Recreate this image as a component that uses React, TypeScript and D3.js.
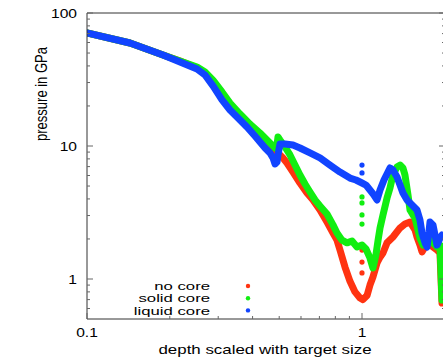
import React from "react";
import * as d3 from "d3";

// ---- data ----
const noCoreDepth = [0.1, 0.1433, 0.189, 0.2179, 0.2512, 0.2686, 0.2872, 0.3097, 0.3311, 0.3601, 0.3914, 0.4257, 0.463, 0.4909, 0.5161, 0.5337, 0.561, 0.595, 0.631, 0.6635, 0.7036, 0.746, 0.7845, 0.8111, 0.8318, 0.8673, 0.9044, 0.9431, 0.9834, 1.008, 1.043, 1.069, 1.096, 1.134, 1.163, 1.192, 1.233, 1.296, 1.375, 1.433, 1.495, 1.559, 1.585, 1.625, 1.653, 1.695, 1.724, 1.767, 1.812, 1.874, 1.921, 1.954];
const noCorePressure = [70.7, 59.5, 48.3, 43.6, 38.6, 35.4, 30.3, 24.6, 20.0, 16.52, 13.9, 11.68, 10.0, 9.01, 8.13, 7.45, 6.37, 5.27, 4.43, 3.93, 3.3, 2.68, 2.22, 1.96, 1.65, 1.23, 0.96, 0.8, 0.72, 0.7, 0.75, 0.9, 1.035, 1.32, 1.46, 1.57, 1.87, 2.07, 2.42, 2.59, 2.68, 2.34, 2.07, 1.8, 1.6, 1.74, 1.96, 1.96, 1.74, 1.65, 1.57, 0.66];

const solidCoreDepth = [0.1, 0.1433, 0.189, 0.2179, 0.2512, 0.2686, 0.2872, 0.3097, 0.3311, 0.3601, 0.3914, 0.4257, 0.455, 0.4827, 0.4909, 0.4949, 0.5032, 0.5248, 0.5473, 0.5706, 0.595, 0.6206, 0.6471, 0.6748, 0.7036, 0.746, 0.7845, 0.8111, 0.8459, 0.882, 0.9197, 0.959, 1.0, 1.034, 1.069, 1.096, 1.124, 1.144, 1.163, 1.192, 1.233, 1.264, 1.296, 1.341, 1.375, 1.409, 1.433, 1.47, 1.495, 1.533, 1.559, 1.598, 1.625, 1.667, 1.724, 1.767, 1.812, 1.874, 1.921, 1.954];
const solidCorePressure = [70.7, 59.5, 48.3, 43.6, 39.3, 36.0, 31.3, 25.5, 21.0, 17.4, 14.6, 12.52, 10.9, 9.66, 10.17, 11.68, 11.1, 9.83, 8.56, 7.19, 6.05, 5.18, 4.51, 3.93, 3.54, 3.08, 2.55, 2.22, 1.96, 1.87, 1.93, 1.74, 1.8, 1.68, 1.44, 1.21, 1.52, 1.96, 2.42, 3.03, 4.06, 4.83, 6.05, 6.95, 7.19, 6.83, 6.05, 4.28, 3.3, 3.03, 2.88, 2.34, 2.03, 1.8, 1.96, 2.07, 1.87, 1.74, 1.8, 0.695];

const liquidCoreDepth = [0.1, 0.1433, 0.189, 0.2179, 0.2512, 0.2686, 0.2872, 0.3097, 0.3311, 0.3601, 0.3817, 0.408, 0.4257, 0.4441, 0.463, 0.4747, 0.4827, 0.4909, 0.4949, 0.5032, 0.5248, 0.561, 0.595, 0.6471, 0.7036, 0.765, 0.8318, 0.9044, 0.9506, 1.0, 1.034, 1.069, 1.105, 1.134, 1.163, 1.202, 1.243, 1.264, 1.296, 1.341, 1.375, 1.409, 1.458, 1.495, 1.546, 1.585, 1.625, 1.653, 1.695, 1.724, 1.752, 1.767, 1.812, 1.843, 1.874, 1.921, 1.954];
const liquidCorePressure = [70.7, 59.5, 48.3, 42.8, 37.9, 34.2, 28.3, 22.2, 18.65, 15.7, 13.9, 11.89, 10.72, 9.66, 8.86, 8.13, 7.32, 7.58, 8.56, 10.35, 10.35, 10.17, 9.66, 8.86, 8.13, 7.19, 6.37, 5.74, 5.55, 5.27, 5.09, 4.67, 4.28, 3.93, 4.67, 5.55, 6.37, 6.83, 6.6, 5.85, 5.09, 4.43, 3.93, 3.73, 3.48, 3.3, 2.78, 2.22, 1.87, 1.74, 2.26, 2.68, 2.55, 2.14, 1.8, 2.03, 2.14];

// isolated points (the dotted columns near depth 1)
const noCoreExtraDepth = [1.0, 1.0, 1.0];
const noCoreExtraPressure = [1.65, 1.34, 1.11];
const solidCoreExtraDepth = [1.0, 1.0, 1.0, 1.0];
const solidCoreExtraPressure = [4.14, 3.73, 3.03, 2.59];
const liquidCoreExtraDepth = [1.0, 1.0];
const liquidCoreExtraPressure = [7.19, 6.27];

const seriesNames = ["no core", "solid core", "liquid core"];
const seriesColors = ["#ff3311", "#11ee11", "#1144ff"];

const xMajorTicks = [0.1, 1];
const xTickLabels = ["0.1", "1"];
const xMinorTicks = [0.2, 0.3, 0.4, 0.5, 0.6, 0.7, 0.8, 0.9];
const yMajorTicks = [1, 10, 100];
const yTickLabels = ["1", "10", "100"];
const yMinorTicks = [0.6, 0.7, 0.8, 0.9, 2, 3, 4, 5, 6, 7, 8, 9, 20, 30, 40, 50, 60, 70, 80, 90];

const W = 443;
const H = 358;
const L = 87, R = 445, T = 13, B = 319;
const FONT = "'Liberation Sans', Arial, Helvetica, sans-serif";
const SX = 1.3;

export default function App() {
  const x = d3.scaleLog().domain([0.1, 1]).range([L, 362]);
  const y = d3.scaleLog().domain([1, 100]).range([279, T]);

  const series = [
    { depth: noCoreDepth, p: noCorePressure, ed: noCoreExtraDepth, ep: noCoreExtraPressure },
    { depth: solidCoreDepth, p: solidCorePressure, ed: solidCoreExtraDepth, ep: solidCoreExtraPressure },
    { depth: liquidCoreDepth, p: liquidCorePressure, ed: liquidCoreExtraDepth, ep: liquidCoreExtraPressure },
  ];

  const line = d3
    .line<[number, number]>()
    .x((d) => x(d[0]))
    .y((d) => y(d[1]));

  const axisColor = "#333";

  return (
    <svg width={W} height={H} style={{ position: "absolute", left: 0, top: 0, background: "#fff" }}>
      <defs>
        <clipPath id="plotclip">
          <rect x={L} y={T} width={R - L} height={B - T} />
        </clipPath>
      </defs>

      <g clipPath="url(#plotclip)">
        {series.map((s, i) => (
          <g key={i}>
            <path
              d={line(s.depth.map((d, j) => [d, s.p[j]] as [number, number])) || ""}
              fill="none"
              stroke={seriesColors[i]}
              strokeWidth={7}
              strokeLinejoin="round"
              strokeLinecap="round"
            />
            {s.ed.map((d, j) => (
              <circle key={j} cx={x(d)} cy={y(s.ep[j])} r={2.6} fill={seriesColors[i]} />
            ))}
          </g>
        ))}
      </g>

      {/* frame */}
      <g stroke={axisColor} strokeWidth={1} fill="none">
        <line x1={L} y1={T} x2={R} y2={T} />
        <line x1={L} y1={B} x2={R} y2={B} />
        <line x1={L} y1={T} x2={L} y2={B} />
        <line x1={R} y1={T} x2={R} y2={B} />
      </g>

      {/* ticks */}
      <g stroke="#666" strokeWidth={1}>
        {xMajorTicks.map((t) => (
          <line key={"xM" + t} x1={x(t)} x2={x(t)} y1={B} y2={B - 6} />
        ))}
        {xMinorTicks.map((t) => (
          <line key={"xm" + t} x1={x(t)} x2={x(t)} y1={B} y2={B - 3} />
        ))}
        {yMajorTicks.map((t) => (
          <g key={"yM" + t}>
            <line x1={L} x2={L + 6} y1={y(t)} y2={y(t)} />
            <line x1={R} x2={R - 6} y1={y(t)} y2={y(t)} />
          </g>
        ))}
        {yMinorTicks.map((t) => (
          <g key={"ym" + t}>
            <line x1={L} x2={L + 3} y1={y(t)} y2={y(t)} />
            <line x1={R} x2={R - 3} y1={y(t)} y2={y(t)} />
          </g>
        ))}
      </g>

      {/* tick labels */}
      <g fontFamily={FONT} fontSize={12} fill="#000">
        {yMajorTicks.map((t, i) => (
          <g key={"yl" + t} transform={`translate(77,${y(t) + 4.5}) scale(${SX},1)`}>
            <text textAnchor="end">{yTickLabels[i]}</text>
          </g>
        ))}
        {xMajorTicks.map((t, i) => (
          <g key={"xl" + t} transform={`translate(${x(t)},337) scale(${SX},1)`}>
            <text textAnchor="middle">{xTickLabels[i]}</text>
          </g>
        ))}
      </g>

      {/* axis titles */}
      <g fontFamily={FONT} fontSize={13} fill="#000">
        <g transform={`translate(265,354) scale(${SX},1)`}>
          <text textAnchor="middle">depth scaled with target size</text>
        </g>
        <g transform={`translate(47,94) scale(${SX},1) rotate(-90)`}>
          <text textAnchor="middle">pressure in GPa</text>
        </g>
      </g>

      {/* legend */}
      <g fontFamily={FONT} fontSize={11} fill="#000">
        {seriesNames.map((n, i) => (
          <g key={n}>
            <g transform={`translate(210,${289.5 + i * 12.5}) scale(1.52,1)`}>
              <text textAnchor="end">{n}</text>
            </g>
            <circle cx={248} cy={286 + i * 12.2} r={2.2} fill={seriesColors[i]} />
          </g>
        ))}
      </g>
    </svg>
  );
}
